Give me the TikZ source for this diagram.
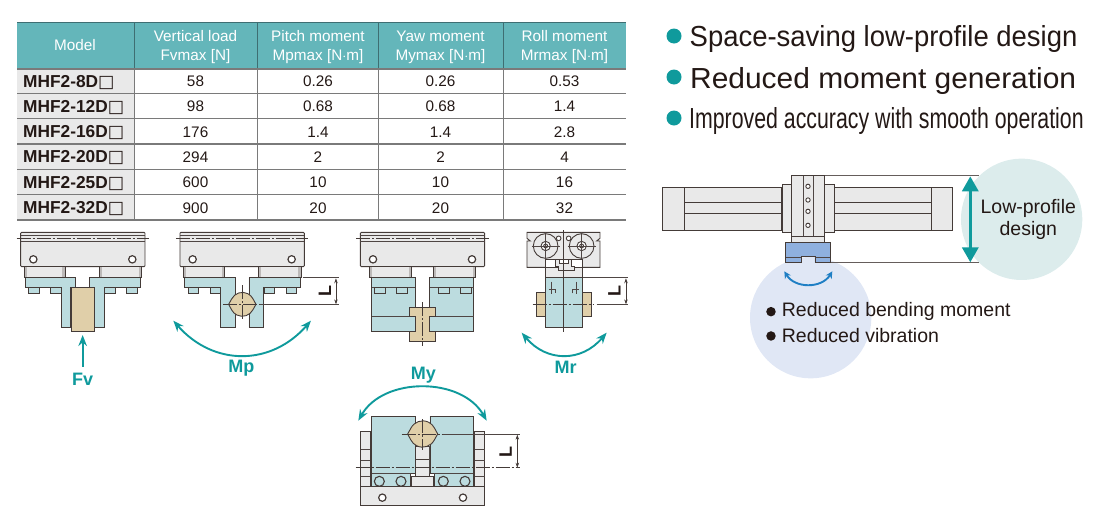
\documentclass[tikz,border=0pt]{standalone}
\usepackage{fontspec}
\usetikzlibrary{arrows.meta}
\setmainfont{Liberation Sans}
\newfontfamily\symfont{DejaVu Sans}

\definecolor{headteal}{HTML}{64B6BA}
\definecolor{darkteal}{HTML}{0F9A9C}
\definecolor{sepdark}{HTML}{3E6E72}
\definecolor{rulegray}{HTML}{7A7A7A}
\definecolor{modelgray}{HTML}{E9E9E9}
\definecolor{inkdark}{HTML}{231815}
\definecolor{partgray}{HTML}{E9E9E9}
\definecolor{partteal}{HTML}{BCDCDF}
\definecolor{parttan}{HTML}{E0CFA9}
\definecolor{circleteal}{HTML}{DCECEC}
\definecolor{circleblue}{HTML}{E0E7F5}
\definecolor{jawblue}{HTML}{8FB0DE}
\definecolor{arcblue}{HTML}{1F7FC4}

\tikzset{
    cell/.style={inner sep=0pt, anchor=base, text=inkdark, font=\fontsize{15.3}{15}\selectfont},
    headcell/.style={cell, text=white},
    modelcell/.style={inner sep=0pt, anchor=base west, text=inkdark, font=\fontsize{17.3}{17}\selectfont\bfseries},
    headline/.style={inner sep=0pt, anchor=base west, text=inkdark, font=\fontsize{29}{29}\selectfont},
    tealdot/.style={circle, fill=darkteal, minimum size=15pt, inner sep=0pt},
    blackdot/.style={circle, fill=inkdark, minimum size=9.5pt, inner sep=0pt},
    bodytext/.style={inner sep=0pt, text=inkdark, font=\fontsize{19.5}{19.5}\selectfont},
    forcelabel/.style={inner sep=0pt, text=darkteal, font=\fontsize{18}{18}\selectfont\bfseries},
    dimlabel/.style={inner sep=0pt, rotate=90, text=inkdark, font=\fontsize{18}{18}\selectfont\bfseries},
    part/.style={draw=inkdark!85, line width=.9pt},
    greypart/.style={part, fill=partgray},
    tealpart/.style={part, fill=partteal},
    tanpart/.style={part, fill=parttan},
    thinline/.style={draw=inkdark!80, line width=.6pt},
    centreline/.style={draw=inkdark!85, line width=.6pt, dash pattern=on 14pt off 2pt on 2pt off 2pt},
    dimarrow/.style={draw=inkdark!85, line width=.6pt, {Stealth[length=5pt,width=3.5pt]}-{Stealth[length=5pt,width=3.5pt]}},
    turnarrow/.style={draw=darkteal, line width=1.9pt, {Stealth[length=11pt,width=8.5pt]}-{Stealth[length=11pt,width=8.5pt]}},
}

\newcommand{\topplate}[1]{%
    \begin{scope}[shift={(#1,0)}]
        \draw[greypart, rounded corners=1pt] (0,22) rectangle (373,125);
        \draw[thinline] (0,30) -- (373,30);
        \draw[thinline] (0,48) -- (373,48);
        \draw[centreline] (-12,40) -- (385,40);
        \draw[part, line width=1.2pt, fill=white] (38,103) circle (11);
        \draw[part, line width=1.2pt, fill=white] (335,103) circle (11);
    \end{scope}
}
\newcommand{\tanpin}[2]{%
    \draw[tanpart, shift={(#1)}, scale=#2] (-41,0) -- (-32,-16) arc (206.6:333.4:36)
        -- (41,0) -- (32,16) arc (26.6:153.4:36) -- cycle;
}
\newcommand{\subblock}[2]{%
    \draw[part, fill=white!70!inkdark] (#1,125) rectangle (#2,158);
    \draw[draw=none, fill=partgray] (#1+8,127) rectangle (#2-8,156);
}

\begin{document}
\begin{tikzpicture}[x=1pt, y=-1pt]
    \useasboundingbox (0,0) rectangle (1100,528);

    % table
    \fill[headteal] (17,22) rectangle (626,69);
    \fill[modelgray] (17,69) rectangle (134,220);
    \foreach \colx in {134,257,378,503}
        \draw[sepdark, line width=.9pt] (\colx,22) -- (\colx,69);
    \foreach \colx in {134,257,378,503}
        \draw[rulegray, line width=.9pt] (\colx,69) -- (\colx,220);
    \draw[sepdark, line width=.9pt] (17,22) -- (626,22);
    \foreach \rowy in {69,93.3,118.7,144,169.3,194.7,220}
        \draw[rulegray, line width=1.1pt] (17,\rowy) -- (626,\rowy);

    \node[headcell] (headmodel) at (75,50.5) {Model};
    \node[headcell] (headvload) at (195.5,41.5) {Vertical load};
    \node[headcell] (headvmax) at (195.5,60.5) {Fvmax [N]};
    \node[headcell] (headpitch) at (318,41.5) {Pitch moment};
    \node[headcell] (headpmax) at (318,60.5) {Mpmax [N$\cdot$m]};
    \node[headcell] (headyaw) at (440.5,41.5) {Yaw moment};
    \node[headcell] (headymax) at (440.5,60.5) {Mymax [N$\cdot$m]};
    \node[headcell] (headroll) at (564.5,41.5) {Roll moment};
    \node[headcell] (headrmax) at (564.5,60.5) {Mrmax [N$\cdot$m]};

    \foreach \model/\vload/\pitch/\yaw/\roll [count=\r from 0] in
        {8/58/0.26/0.26/0.53, 12/98/0.68/0.68/1.4, 16/176/1.4/1.4/2.8,
         20/294/2/2/4, 25/600/10/10/16, 32/900/20/20/32} {
        \pgfmathsetmacro{\basey}{86.5+25.33*\r}
        \node[modelcell] (model\r) at (23,\basey+.5) {MHF2-\model D{\symfont\mdseries □}};
        \node[cell] (vload\r) at (195.5,\basey) {\vload};
        \node[cell] (pitch\r) at (318,\basey) {\pitch};
        \node[cell] (yaw\r) at (440.5,\basey) {\yaw};
        \node[cell] (roll\r) at (564.5,\basey) {\roll};
    }

    % headlines
    \node[tealdot] (dot1) at (674,36) {};
    \node[tealdot] (dot2) at (674,77) {};
    \node[tealdot] (dot3) at (674,118) {};
    \node[headline] (line1) at (689.5,46) {\scalebox{.947}[1]{Space-saving low-profile design}};
    \node[headline] (line2) at (690,88) {\scalebox{1.032}[1]{Reduced moment generation}};
    \node[headline] (line3) at (689,128.5) {\scalebox{.735}[1]{Improved accuracy with smooth operation}};

    % Fv
    \begin{scope}[shift={(10,225)}, scale=.3333]
        \topplate{32}
        \subblock{42}{165}
        \subblock{268}{395}
        \draw[tealpart] (56,187) rectangle (88,205);
        \draw[tealpart] (122,187) rectangle (154,205);
        \draw[tealpart] (284,187) rectangle (316,205);
        \draw[tealpart] (350,187) rectangle (382,205);
        \draw[tealpart] (46,158) -- (197,158) -- (197,187) -- (182,187) -- (182,307) -- (155,307) -- (155,187) -- (46,187) -- cycle;
        \draw[tealpart] (238,158) -- (390,158) -- (390,187) -- (282,187) -- (282,307) -- (253,307) -- (253,187) -- (238,187) -- cycle;
        \draw[tanpart] (183,187) rectangle (253,320);
        \coordinate (fvstart) at (218,425);
        \coordinate (fvend) at (218,330);
        \draw[draw=darkteal, line width=1.9pt, -{Stealth[length=11pt,width=8.5pt]}] (fvstart) -- (fvend);
        \node[forcelabel] (fvlabel) at (218,462) {Fv};
    \end{scope}

    % Mp
    \begin{scope}[shift={(10,225)}, scale=.3333]
        \topplate{510}
        \subblock{520}{643}
        \subblock{746}{873}
        \draw[tealpart] (534,187) rectangle (566,205);
        \draw[tealpart] (600,187) rectangle (632,205);
        \draw[tealpart] (762,187) rectangle (794,205);
        \draw[tealpart] (828,187) rectangle (860,205);
        \draw[tealpart] (524,158) -- (676,158) -- (676,307) -- (632,307) -- (632,187) -- (524,187) -- cycle;
        \draw[tealpart] (717,158) -- (870,158) -- (870,187) -- (761,187) -- (761,307) -- (717,307) -- cycle;
        \tanpin{697,238}{1}
        \draw[centreline] (640,238) -- (760,238);
        \draw[centreline] (697,180) -- (697,287);
        \draw[thinline] (878,158) -- (988,158);
        \draw[thinline] (750,238) -- (988,238);
        \draw[dimarrow] (978,160) -- (978,238);
        \node[dimlabel] (mpdim) at (945,197) {L};
        \coordinate (mpleft) at (490,287);
        \coordinate (mpright) at (903,287);
        \draw[turnarrow] (mpleft) .. controls (610,424) and (783,424) .. (mpright);
        \node[forcelabel] (mplabel) at (694,430) {Mp};
    \end{scope}

    % My, view from the front
    \begin{scope}[shift={(345,225)}, scale=.3333]
        \topplate{46}
        \subblock{73}{200}
        \subblock{264}{392}
        \draw[tealpart] (80,158) rectangle (211,320);
        \draw[tealpart] (254,158) rectangle (386,320);
        \draw[thinline] (80,187) -- (211,187);
        \draw[thinline] (254,187) -- (386,187);
        \draw[thinline] (80,275) -- (211,275);
        \draw[thinline] (254,275) -- (386,275);
        \draw[tealpart] (88,187) rectangle (120,205);
        \draw[tealpart] (154,187) rectangle (186,205);
        \draw[tealpart] (280,187) rectangle (312,205);
        \draw[tealpart] (346,187) rectangle (378,205);
        \draw[tanpart] (194,248) -- (271,248) -- (271,275) -- (254,275) -- (254,320) -- (271,320)
            -- (271,348) -- (194,348) -- (194,320) -- (211,320) -- (211,275) -- (194,275) -- cycle;
        \draw[centreline] (232,232) -- (232,362);
    \end{scope}

    % Mr
    \begin{scope}[shift={(345,225)}, scale=.3333]
        \draw[greypart] (546,22) -- (765,22) -- (765,40) -- (755,48) -- (765,48) -- (765,127)
            -- (546,127) -- (546,48) -- (556,48) -- (546,40) -- cycle;
        \foreach \rollx in {602,710} {
            \draw[part, fill=partgray] (\rollx,63) circle (37);
            \draw[part, fill=white] (\rollx,63) circle (14);
            \draw[part, fill=partgray] (\rollx,63) circle (6);
            \draw[thinline] (\rollx-42,63) -- (\rollx+42,63);
            \draw[thinline] (\rollx,21) -- (\rollx,105);
        }
        \draw[part, fill=white] (641,40) circle (7);
        \draw[part, fill=white] (671,40) circle (7);
        \draw[tanpart] (574,203) rectangle (600,273);
        \draw[tanpart] (711,203) rectangle (738,273);
        \draw[tealpart] (602,158) rectangle (711,307);
        \draw[greypart] (602,127) rectangle (712,158);
        \draw[greypart, fill=white] (600,102) rectangle (712,127);
        \draw[part, fill=partgray] (632,102) -- (632,125) -- (640,125) -- (640,137) -- (688,137) -- (688,125)
            -- (680,125) -- (680,102) -- (670,102) -- (670,115) -- (642,115) -- (642,102) -- cycle;
        \draw[thinline] (620,170) -- (620,208);
        \draw[thinline] (695,170) -- (695,208);
        \draw[thinline] (612,192) -- (632,192) -- (632,205);
        \draw[thinline] (682,205) -- (682,192) -- (702,192);
        \draw[draw=inkdark!85, line width=.7pt] (655,15) -- (655,322);
        \draw[centreline] (563,238) -- (745,238);
        \draw[thinline] (715,158) -- (850,158);
        \draw[thinline] (755,238) -- (850,238);
        \draw[dimarrow] (843,160) -- (843,238);
        \node[dimlabel] (mrdim) at (808,198) {L};
        \coordinate (mrleft) at (530,323);
        \coordinate (mrright) at (785,323);
        \draw[turnarrow] (mrleft) .. controls (605,412) and (710,412) .. (mrright);
        \node[forcelabel] (mrlabel) at (662,427) {Mr};
        \node[forcelabel] (mylabel) at (235,450) {My};
    \end{scope}

    % My, view from above
    \begin{scope}[shift={(340,360)}, scale=.3333]
        \draw[greypart] (62,214) rectangle (92,378);
        \draw[greypart] (403,214) rectangle (434,378);
        \foreach \liney in {268,300,350} {
            \draw[thinline] (62,\liney) -- (92,\liney);
            \draw[thinline] (403,\liney) -- (434,\liney);
        }
        \draw[greypart] (227,260) rectangle (268,350);
        \draw[part, line width=1.2pt] (227,298) -- (268,298);
        \draw[greypart] (215,350) rectangle (280,380);
        \draw[tealpart] (95,168) -- (225,168) -- (225,340) -- (212,340) -- (212,378) -- (95,378) -- cycle;
        \draw[tealpart] (270,168) -- (400,168) -- (400,378) -- (283,378) -- (283,340) -- (270,340) -- cycle;
        \draw[thinline] (95,340) -- (212,340);
        \draw[thinline] (283,340) -- (400,340);
        \foreach \rollx in {118,183,310,375}
            \draw[part, line width=1.1pt] (\rollx,364) circle (15);
        \draw[part, line width=1.3pt] (92,268) -- (92,378);
        \draw[part, line width=1.3pt] (403,268) -- (403,378);
        \draw[greypart] (62,380) rectangle (434,435);
        \draw[part, line width=1.2pt, fill=white] (127,413) circle (11);
        \draw[part, line width=1.2pt, fill=white] (369,413) circle (11);
        \tanpin{248,222}{1.1}
        \draw[centreline] (185,222) -- (310,222);
        \draw[thinline] (310,222) -- (540,222);
        \draw[centreline] (247,178) -- (247,270);
        \draw[centreline] (47,323) -- (540,323);
        \draw[dimarrow] (532,224) -- (532,323);
        \node[dimlabel] (mydim) at (497,275) {L};
        \coordinate (myleft) at (55,182);
        \coordinate (myright) at (440,182);
        \draw[turnarrow] (myleft) .. controls (130,50) and (365,50) .. (myright);
    \end{scope}

    % cylinder
    \begin{scope}[shift={(650,150)}, scale=.3333]
        \fill[circleteal] (1115,208) circle (182);
        \fill[circleblue] (482,503) circle (182);
        \draw[thinline, line width=.9pt, draw=inkdark!70] (523,77) -- (988,77);
        \draw[thinline, line width=.9pt, draw=inkdark!70] (541,338) -- (988,338);
        \draw[greypart] (103,111) rectangle (395,240);
        \draw[greypart] (553,111) rectangle (845,240);
        \foreach \liney in {157,190} {
            \draw[part] (103,\liney) -- (395,\liney);
            \draw[part] (553,\liney) -- (845,\liney);
        }
        \draw[greypart] (38,111) rectangle (103,240);
        \draw[greypart] (845,111) rectangle (908,240);
        \draw[greypart] (396,102) rectangle (425,248);
        \draw[greypart] (523,102) rectangle (553,248);
        \draw[greypart] (425,258) rectangle (523,278);
        \draw[greypart] (425,77) rectangle (523,258);
        \draw[thinline] (460,77) -- (460,258);
        \draw[thinline] (490,77) -- (490,258);
        \foreach \holey in {109,150,184,226}
            \draw[part, fill=white] (474,\holey) circle (6.5);
        \draw[part, fill=jawblue] (407,278) -- (541,278) -- (541,338) -- (495,338) -- (495,320) -- (453,320) -- (453,338) -- (407,338) -- cycle;
        \draw[thinline] (407,322) -- (453,322);
        \draw[thinline] (495,322) -- (541,322);
        \coordinate (lowtop) at (961,79);
        \coordinate (lowbottom) at (961,337);
        \draw[draw=darkteal, line width=3.3pt, {Stealth[length=15pt,width=16pt,inset=0pt]}-{Stealth[length=15pt,width=16pt,inset=0pt]}] (lowtop) -- (lowbottom);
        \coordinate (swingleft) at (403,364);
        \coordinate (swingright) at (547,364);
        \draw[draw=arcblue, line width=1.9pt, {Stealth[length=7pt,width=7pt]}-{Stealth[length=7pt,width=7pt]}] (swingleft) .. controls (435,416) and (515,416) .. (swingright);
        \node[bodytext] (lowtext1) at (1135,175) {Low-profile};
        \node[bodytext] (lowtext2) at (1135,240) {design};
        \node[blackdot] (benddot) at (363,485) {};
        \node[blackdot] (vibdot) at (363,558) {};
        \node[bodytext, anchor=west] (bendtext) at (395,485) {Reduced bending moment};
        \node[bodytext, anchor=west] (vibtext) at (395,558) {Reduced vibration};
    \end{scope}
\end{tikzpicture}
\end{document}
